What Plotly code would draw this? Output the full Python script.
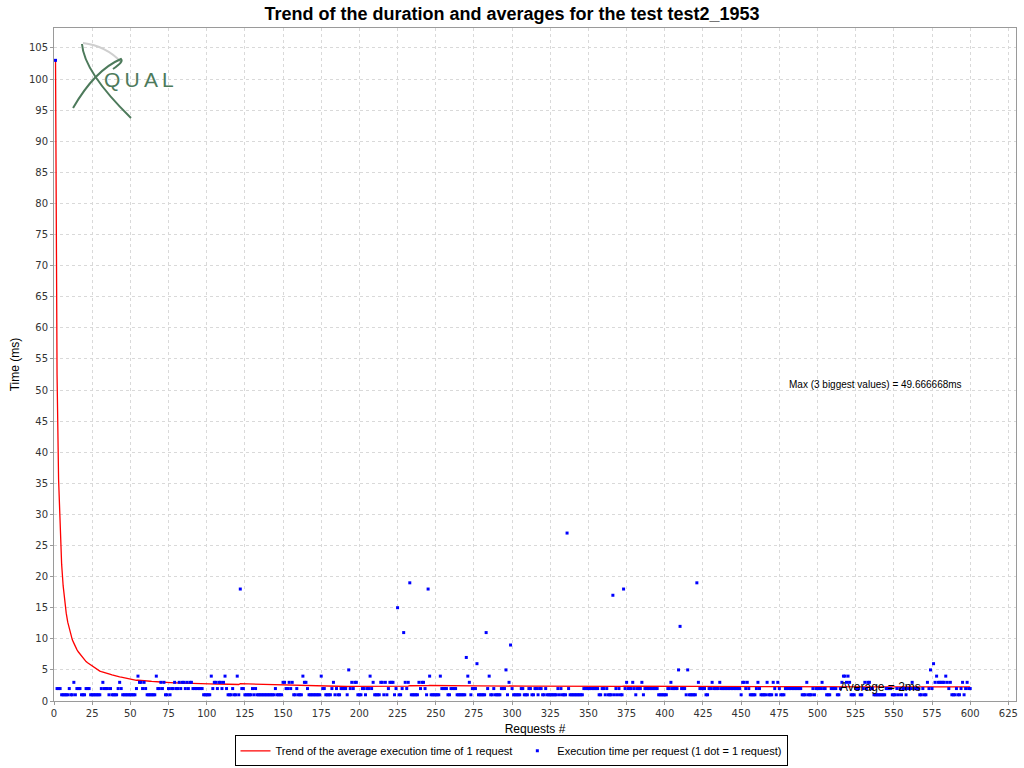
import numpy as np
import plotly.graph_objects as go

# ---- data (ms per request, one char per request; X = outlier) ----
BLOCKS = [
    "X222111112113122211122211",  # 1-25
    "1111123222121111232111111",  # 26-50
    "1112433232111111422323112",  # 51-75
    "1223223233232332222222111",  # 76-100
    "114233233234211121141X221",  # 101-125
    "1111212111111111111211113",  # 126-150
    "3223231121114332111111114",  # 151-175
    "2211112312112222152323311",  # 176-200
    "122122423111133131233312X",  # 201-225
    "112X323X11111323321X41111",  # 226-250
    "1142222112222111111X43122",  # 251-275
    "2X11111X241121111222X13X2",  # 276-300
    "1111122111221122122112111",  # 301-325
    "1111212111X21111111112222",  # 326-350
    "222222112212111X121211X23",  # 351-375
    "2223212223122222222211111",  # 376-400
    "122322225X2221511111X3222",  # 401-425
    "2112232222322222222222221",  # 426-450
    "3323211112321111311132132",  # 451-475
    "1112222222222211131112122",  # 476-500
    "2232211122221123443431112",  # 501-525
    "2211232332211111111222211",  # 526-550
    "1212122122232222112113252",  # 551-575
    "6343333343231112112312322",  # 576-600
]
OUTLIERS = [103, 18, 15, 11, 19, 18, 7, 6, 11, 5, 9, 27, 17, 18, 12, 19]

TITLE = "Trend of the duration and averages for the test test2_1953"
X_TITLE = "Requests #"
Y_TITLE = "Time (ms)"
TREND_NAME = "Trend of the average execution time of 1 request"
DOT_NAME = "Execution time per request (1 dot = 1 request)"
MAX_TEXT = "Max (3 biggest values) = 49.666668ms"
MAX_VALUE = 49.666668
AVG_TEXT = "Average = 2ms"
AVG_POS = (541, 2.3)

# ---- decode ----
times = []
it = iter(OUTLIERS)
for blk in BLOCKS:
    for c in blk:
        times.append(next(it) if c == "X" else int(c))
times = np.array(times, dtype=float)
requests = np.arange(1, len(times) + 1)
trend = np.cumsum(times) / requests

FONT = "Liberation Sans, Arial, Helvetica, sans-serif"

fig = go.Figure()
fig.add_trace(go.Scatter(
    x=requests, y=trend, mode="lines", name=TREND_NAME,
    line=dict(color="#ff0000", width=1.3),
))
fig.add_trace(go.Scatter(
    x=requests, y=times, mode="markers", name=DOT_NAME,
    marker=dict(color="#0000ff", size=3, symbol="square", line=dict(width=0)),
))

# plot area in pixels (for the decorative logo)
L, T, W, H = 54, 28, 962, 673


def P(x, y):
    return f"{(x - L) / W:.4f},{(T + H - y) / H:.4f}"


logo_green = "#4d7a5b"
shapes = [
    dict(type="path", xref="paper", yref="paper",
         path=f"M {P(83,43)} Q {P(106,46)} {P(121,62)}",
         line=dict(color="#cfcfcf", width=2)),
    dict(type="path", xref="paper", yref="paper",
         path=f"M {P(82,44)} Q {P(84,72)} {P(131,118)}",
         line=dict(color=logo_green, width=2)),
    dict(type="path", xref="paper", yref="paper",
         path=f"M {P(73,108)} Q {P(95,70)} {P(121,59)} Q {P(124,62)} {P(113,69)}",
         line=dict(color=logo_green, width=2)),
]

annotations = [
    dict(xref="paper", yref="paper", x=(139 - L) / W, y=(T + H - 80) / H,
         text="Q\u2009U\u2009A\u2009L", showarrow=False,
         font=dict(family="Liberation Sans Narrow, Liberation Sans, sans-serif",
                   size=21, color=logo_green),
         xanchor="center", yanchor="middle"),
    dict(x=480, y=MAX_VALUE, xref="x", yref="y", text=MAX_TEXT, showarrow=False,
         font=dict(family=FONT, size=10, color="#000000"),
         xanchor="left", yanchor="bottom"),
    dict(x=AVG_POS[0], y=AVG_POS[1], xref="x", yref="y", text=AVG_TEXT, showarrow=False,
         font=dict(family=FONT, size=12, color="#000000"),
         xanchor="center", yanchor="middle"),
]

axis_common = dict(
    showgrid=True, gridcolor="#d9d9d9", griddash="3px,3px", gridwidth=1,
    showline=True, linecolor="#9a9a9a", linewidth=1, mirror=True,
    ticks="outside", ticklen=3, tickcolor="#9a9a9a",
    tickfont=dict(family="DejaVu Sans, sans-serif", size=10, color="#333333"),
    zeroline=False,
)

fig.update_layout(
    width=1024, height=768, autosize=False,
    margin=dict(l=L, r=1024 - L - W, t=T, b=768 - T - H, autoexpand=False),
    paper_bgcolor="#ffffff", plot_bgcolor="#ffffff",
    title=dict(text=f"<b>{TITLE}</b>", x=0.5, xanchor="center", y=1 - 14 / 768,
               yanchor="middle", font=dict(family=FONT, size=18, color="#000000")),
    xaxis=dict(range=[0, 630], dtick=25, tick0=0,
               title=dict(text=X_TITLE, font=dict(family=FONT, size=12, color="#000000"),
                          standoff=6),
               **axis_common),
    yaxis=dict(range=[0, 108.2], dtick=5, tick0=0,
               title=dict(text=Y_TITLE, font=dict(family=FONT, size=12, color="#000000"),
                          standoff=6),
               **axis_common),
    legend=dict(orientation="h", x=(511 - L) / W, xanchor="center", y=-0.051, yanchor="top",
                bordercolor="#000000", borderwidth=1, bgcolor="#ffffff",
                font=dict(family=FONT, size=11, color="#000000"),
                itemwidth=30, tracegroupgap=0),
    shapes=shapes,
    annotations=annotations,
    showlegend=True,
)

fig.write_html("out.html", config={"displayModeBar": False},
               post_script="document.body.style.margin='0';")
